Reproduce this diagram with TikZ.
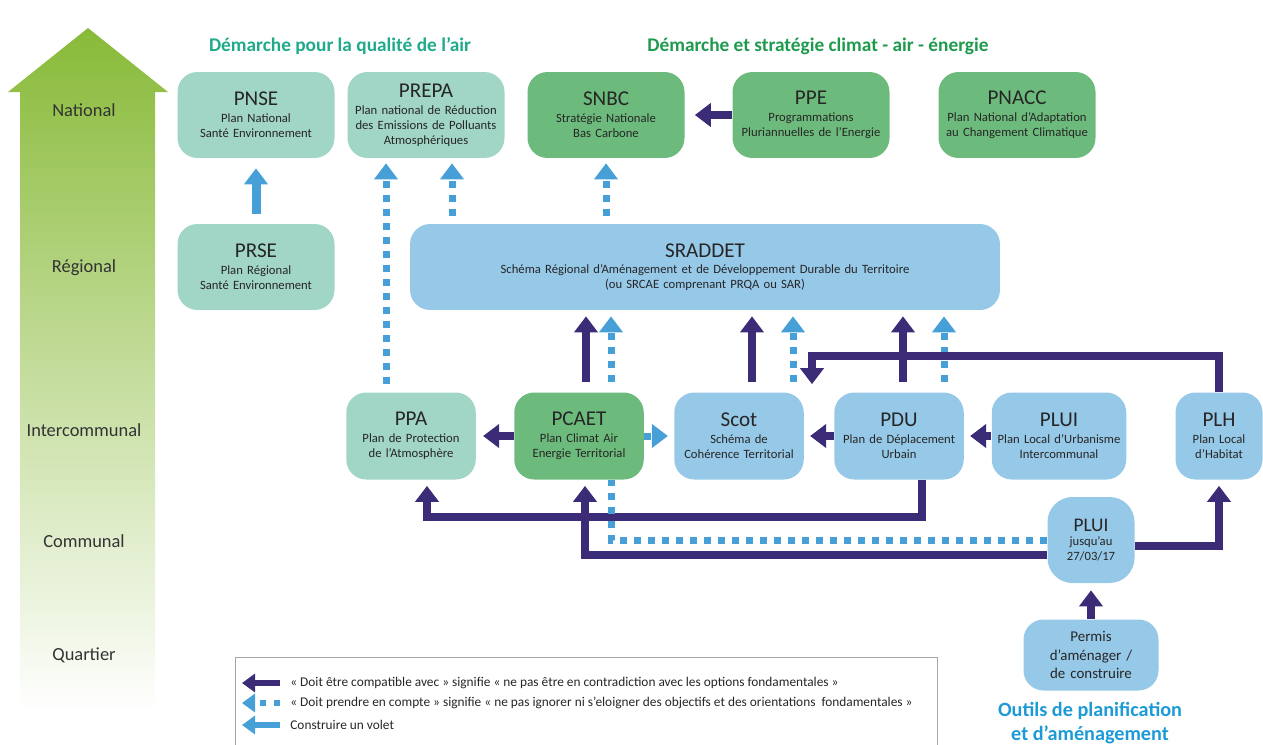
\documentclass[tikz,border=0pt]{standalone}
\usepackage{fontspec}
\setmainfont{Carlito}
\usetikzlibrary{arrows.meta,positioning}

\definecolor{airteal}{HTML}{A1D5C5}
\definecolor{climgreen}{HTML}{6CBB7C}
\definecolor{planblue}{HTML}{96C8E8}
\definecolor{arrowdark}{HTML}{3C2C78}
\definecolor{arrowlight}{HTML}{46A0D7}
\definecolor{levelgreen}{HTML}{88BA38}
\definecolor{airtitle}{HTML}{1FAA8C}
\definecolor{climtitle}{HTML}{1E9A4E}
\definecolor{outiltitle}{HTML}{1C9AD6}

\newcommand{\subtxt}{\fontsize{7.2}{8.5}\selectfont}
\newcommand{\acr}[1]{{\fontsize{12}{13}\selectfont #1}\\[1pt]}

\begin{document}
\begin{tikzpicture}[x=0.02cm, y=-0.02cm,
    plan/.style={rounded corners=0.4cm, minimum width=3.14cm, minimum height=1.72cm,
      text width=3.0cm, align=center, inner sep=2pt, font=\subtxt, text=black!85},
    row/.style={minimum width=2.54cm, minimum height=1.74cm, text width=2.45cm},
    air/.style={plan, fill=airteal},
    climat/.style={plan, fill=climgreen},
    urba/.style={plan, fill=planblue},
    tip/.style={-{Triangle[width=0.46cm,length=0.32cm]}},
    compat/.style={draw=arrowdark, line width=0.15cm, tip},
    prise/.style={draw=arrowlight, line width=0.14cm, dash pattern=on 0.14cm off 0.14cm, tip},
    volet/.style={draw=arrowlight, line width=0.18cm, tip},
    small tip/.style={-{Triangle[width=0.36cm,length=0.26cm]}},
    level/.style={font=\fontsize{10.5}{12}\selectfont, text=black!80},
    heading/.style={font=\bfseries\fontsize{11}{13}\selectfont},
    legendtext/.style={font=\fontsize{7.6}{9}\selectfont, text=black!85, anchor=west, inner sep=0pt}]
  \useasboundingbox (0,0) rectangle (1263,744);

  % left scale
  \shade[top color=levelgreen, middle color=levelgreen!55!white, bottom color=white]
    (8,92) -- (88,28) -- (168,92) -- (155,92) -- (155,712) -- (20,712) -- (20,92) -- cycle;
  \node[level] (national) at (84,110) {National};
  \node[level] (regional) at (84,268) {Régional};
  \node[level] (intercom) at (84,430) {Intercommunal};
  \node[level] (communal) at (84,541) {Communal};
  \node[level] (quartier) at (84,655) {Quartier};

  \node[heading, text=airtitle] (airhead) at (340,46) {Démarche pour la qualité de l’air};
  \node[heading, text=climtitle] (climhead) at (818,46) {Démarche et stratégie climat - air - énergie};

  % national
  \node[air] (pnse) at (256,115) {\acr{PNSE}Plan National\\Santé Environnement};
  \node[air] (prepa) at (426,115) {\acr{PREPA}Plan national de Réduction\\des Emissions de Polluants\\Atmosphériques};
  \node[climat] (snbc) at (606,115) {\acr{SNBC}Stratégie Nationale\\Bas Carbone};
  \node[climat] (ppe) at (811,115) {\acr{PPE}Programmations\\Pluriannuelles de l'Energie};
  \node[climat] (pnacc) at (1017,115) {\acr{PNACC}Plan National d’Adaptation\\au Changement Climatique};

  % regional
  \node[air] (prse) at (256,267) {\acr{PRSE}Plan Régional\\Santé Environnement};
  \node[urba, minimum width=11.8cm, text width=11cm] (sraddet) at (705,267) {\acr{SRADDET}Schéma Régional d’Aménagement et de Développement Durable du Territoire\\(ou SRCAE comprenant PRQA ou SAR)};

  % intercommunal
  \node[air, row] (ppa) at (411,436) {\acr{PPA}Plan de Protection\\de l'Atmosphère};
  \node[climat, row] (pcaet) at (579,436) {\acr{PCAET}Plan Climat Air\\Energie Territorial};
  \node[urba, row] (scot) at (739,436) {\acr{Scot}Schéma de\\Cohérence Territorial};
  \node[urba, row] (pdu) at (899,436) {\acr{PDU}Plan de Déplacement\\Urbain};
  \node[urba, row, minimum width=2.64cm, text width=2.55cm] (plui) at (1059,436) {\acr{PLUI}Plan Local d’Urbanisme\\Intercommunal};
  \node[urba, row, minimum width=1.72cm, text width=1.6cm] (plh) at (1219,436) {\acr{PLH}Plan Local\\d’Habitat};

  % communal, quartier
  \node[urba, minimum width=1.74cm, minimum height=1.72cm, text width=1.6cm, rounded corners=0.5cm] (pluicom) at (1091,540)
    {{\fontsize{11}{12}\selectfont PLUI}\\jusqu’au\\27/03/17};
  \node[urba, minimum width=2.7cm, minimum height=1.42cm, text width=2.5cm, font=\fontsize{8.5}{10.5}\selectfont] (permis) at (1091,655)
    {Permis\\d’aménager /\\de construire};
  \node[heading, text=outiltitle, align=center, font=\bfseries\fontsize{11.5}{13.5}\selectfont] (outils) at (1090,723)
    {Outils de planification\\et d’aménagement};

  % links to national level
  \draw[volet, shorten <=0.2cm, shorten >=0.2cm] (prse) -- (pnse);
  \draw[compat, shorten >=0.2cm] (ppe) -- (snbc);
  \draw[prise, shorten <=0.16cm, shorten >=0.1cm] ([xshift=-0.5cm]ppa.north) -- ([xshift=-0.5cm]ppa.north |- prepa.south);
  \draw[prise, shorten <=0.16cm, shorten >=0.1cm] ([xshift=0.52cm]prepa.south |- sraddet.north) -- ([xshift=0.52cm]prepa.south);
  \draw[prise, shorten <=0.16cm, shorten >=0.1cm] (snbc.south |- sraddet.north) -- (snbc.south);

  % links to SRADDET
  \draw[compat, shorten <=0.2cm, shorten >=0.12cm] ([xshift=0.14cm]pcaet.north) -- ([xshift=0.14cm]pcaet.north |- sraddet.south);
  \draw[prise, shorten <=0.2cm, shorten >=0.12cm] ([xshift=0.64cm]pcaet.north) -- ([xshift=0.64cm]pcaet.north |- sraddet.south);
  \draw[compat, shorten <=0.2cm, shorten >=0.12cm] ([xshift=0.26cm]scot.north) -- ([xshift=0.26cm]scot.north |- sraddet.south);
  \draw[prise, shorten <=0.2cm, shorten >=0.12cm] ([xshift=1.08cm]scot.north) -- ([xshift=1.08cm]scot.north |- sraddet.south);
  \draw[prise, shorten <=0.2cm, shorten >=0.12cm] ([xshift=0.9cm]pdu.north) -- ([xshift=0.9cm]pdu.north |- sraddet.south);
  \coordinate (scotin) at ([xshift=1.46cm]scot.north);
  \draw[compat, shorten >=0.16cm] (plh.north) |- ([yshift=0.72cm]scotin) -- (scotin);
  \draw[compat, shorten <=0.2cm, shorten >=0.12cm] ([xshift=0.08cm]pdu.north) -- ([xshift=0.08cm]pdu.north |- sraddet.south);

  % intercommunal row
  \draw[compat, shorten >=0.14cm] (pcaet) -- (ppa);
  \draw[prise, shorten >=0.12cm] (pcaet) -- (scot);
  \draw[compat, shorten >=0.12cm] (pdu) -- (scot);
  \draw[compat, shorten >=0.12cm] (plui) -- (pdu);

  % lower links
  \draw[compat, shorten >=0.12cm] ([xshift=0.46cm]pdu.south) -- ++(0,37) -| ([xshift=0.32cm]ppa.south);
  \draw[prise, -] (pluicom.west) -| ([xshift=0.64cm]pcaet.south);
  \draw[compat, shorten >=0.12cm] ([yshift=-0.3cm]pluicom.west) -| ([xshift=0.12cm]pcaet.south);
  \draw[compat, shorten >=0.12cm] ([yshift=-0.12cm]pluicom.east) -| (plh.south);
  \draw[compat, shorten >=0.14cm] (permis) -- (pluicom);

  % legend
  \node[draw=gray!70, line width=0.6pt, minimum width=14.04cm, minimum height=2cm, anchor=north west, inner sep=0pt] (legend) at (235,657) {};
  \node[legendtext] (leg1) at (290,683) {« Doit être compatible avec » signifie « ne pas être en contradiction avec les options fondamentales »};
  \node[legendtext] (leg2) at (290,703) {« Doit prendre en compte » signifie « ne pas ignorer ni s’eloigner des objectifs et des orientations~ fondamentales »};
  \node[legendtext] (leg3) at (290,725) {Construire un volet};
  \coordinate (k1) at (242,683);
  \coordinate (k2) at (242,703);
  \coordinate (k3) at (242,725);
  \draw[draw=arrowdark, line width=0.13cm, small tip, shorten <=0.2cm] (leg1.west) -- (k1);
  \draw[draw=arrowlight, line width=0.13cm, dash pattern=on 0.12cm off 0.16cm, small tip, shorten <=0.2cm] (leg2.west) -- (k2);
  \draw[draw=arrowlight, line width=0.13cm, small tip, shorten <=0.2cm] (leg3.west) -- (k3);
\end{tikzpicture}
\end{document}
